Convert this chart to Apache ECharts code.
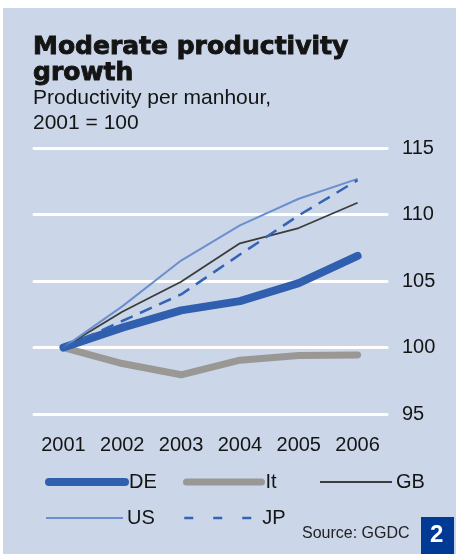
<!DOCTYPE html>
<html>
<head>
<meta charset="utf-8">
<script src="https://cdn.jsdelivr.net/npm/echarts@6/dist/echarts.min.js"></script>
<style>
  html, body { margin: 0; padding: 0; background: #ffffff; }
  #panel { position: absolute; left: 3px; top: 8px; width: 453px; height: 546px; background: #cbd6e8; }
  #chart { position: absolute; left: 0; top: 0; width: 456px; height: 554px; }
</style>
</head>
<body>
<div id="panel"></div>
<div id="chart"></div>
<script>
const years = ['2001', '2002', '2003', '2004', '2005', '2006'];
const DE = [100, 101.5, 102.8, 103.5, 104.85, 106.9];
const It = [100, 98.8, 97.95, 99.05, 99.4, 99.45];
const GB = [100, 102.7, 104.95, 107.85, 109.0, 110.9];
const US = [100, 103.1, 106.55, 109.2, 111.2, 112.7];
const JP = [100, 102.0, 104.0, 107.0, 109.95, 112.6];
const yTicks = [95, 100, 105, 110, 115];

const FONT = '"Liberation Sans", Arial, sans-serif';
const TXT = '#141414';

const chart = echarts.init(document.getElementById('chart'), null, { renderer: 'canvas' });

function legendAt(name, left, top, width, ls) {
  return {
    show: true, left: left, top: top, orient: 'horizontal', padding: 0,
    itemWidth: width, itemHeight: 20, itemGap: 0, selectedMode: false,
    textStyle: { fontFamily: FONT, fontSize: 20, color: TXT, padding: [0, 0, 0, -1] },
    data: [{ name: name, lineStyle: ls,
      itemStyle: { color: 'transparent', borderColor: 'transparent', borderWidth: 0, opacity: 0 } }]
  };
}

const option = {
  animation: false,
  title: [
    { text: 'Moderate productivity\ngrowth', left: 33, top: 35, padding: 0,
      textStyle: { fontFamily: '"DejaVu Sans", sans-serif', fontWeight: 'bold', fontSize: 25, lineHeight: 25.5, color: TXT,
        textBorderColor: TXT, textBorderWidth: 0.9 } },
    { text: 'Productivity per manhour,\n2001 = 100', left: 33, top: 86, padding: 0,
      textStyle: { fontFamily: FONT, fontWeight: 'normal', fontSize: 21, lineHeight: 25, color: TXT } },
    { text: 'Source: GGDC', left: 302, top: 526, padding: 0,
      textStyle: { fontFamily: FONT, fontWeight: 'normal', fontSize: 16, color: '#222' } }
  ],
  grid: { left: 34, right: 69, top: 148.3, bottom: 140, containLabel: false },
  xAxis: {
    type: 'category', data: years, boundaryGap: true,
    axisLine: { show: false }, axisTick: { show: false },
    axisLabel: { fontFamily: FONT, fontSize: 20, color: TXT, margin: 21 }
  },
  yAxis: {
    type: 'value', position: 'right', min: 95, max: 115, interval: 5,
    axisLine: { show: false }, axisTick: { show: false },
    axisLabel: { fontFamily: FONT, fontSize: 20, color: TXT, margin: 15,
      formatter: v => (yTicks.indexOf(v) >= 0 ? String(v) : '') },
    splitLine: { show: true, lineStyle: { color: '#ffffff', width: 3, cap: 'round' } }
  },
  legend: [
    legendAt('DE', 45, 472, 76, { color: '#2f5fae', width: 8, cap: 'round', type: 'solid' }),
    legendAt('It', 183, 472, 75, { color: '#999895', width: 7, cap: 'round', type: 'solid' }),
    legendAt('GB', 319, 472, 72, { color: '#3c3c3c', width: 2, type: 'solid' }),
    legendAt('US', 45, 508, 77, { color: '#6b8fcf', width: 2, type: 'solid' }),
    legendAt('JP', 183, 508, 74, { color: '#3464b4', width: 2.5, type: [9, 20] })
  ],
  series: [
    { name: 'It', type: 'line', data: It, symbol: 'none', color: '#999895',
      lineStyle: { color: '#999895', width: 7, cap: 'round', join: 'round' } },
    { name: 'DE', type: 'line', data: DE, symbol: 'none', color: '#2f5fae',
      lineStyle: { color: '#2f5fae', width: 8, cap: 'round', join: 'round' } },
    { name: 'GB', type: 'line', data: GB, symbol: 'none', color: '#3c3c3c',
      lineStyle: { color: '#3c3c3c', width: 1.8 } },
    { name: 'US', type: 'line', data: US, symbol: 'none', color: '#6b8fcf',
      lineStyle: { color: '#6b8fcf', width: 2 } },
    { name: 'JP', type: 'line', data: JP, symbol: 'none', color: '#3464b4',
      lineStyle: { color: '#3464b4', width: 2.5, type: [13, 8] } }
  ],
  graphic: [
    { type: 'rect', left: 421, top: 517, shape: { width: 33, height: 37 }, style: { fill: '#003a94' }, z: 10 },
    { type: 'text', left: 430, top: 523, style: { text: '2', fill: '#ffffff', font: 'bold 24px "Liberation Sans", Arial, sans-serif' }, z: 11 }
  ]
};
chart.setOption(option);
</script>
</body>
</html>
